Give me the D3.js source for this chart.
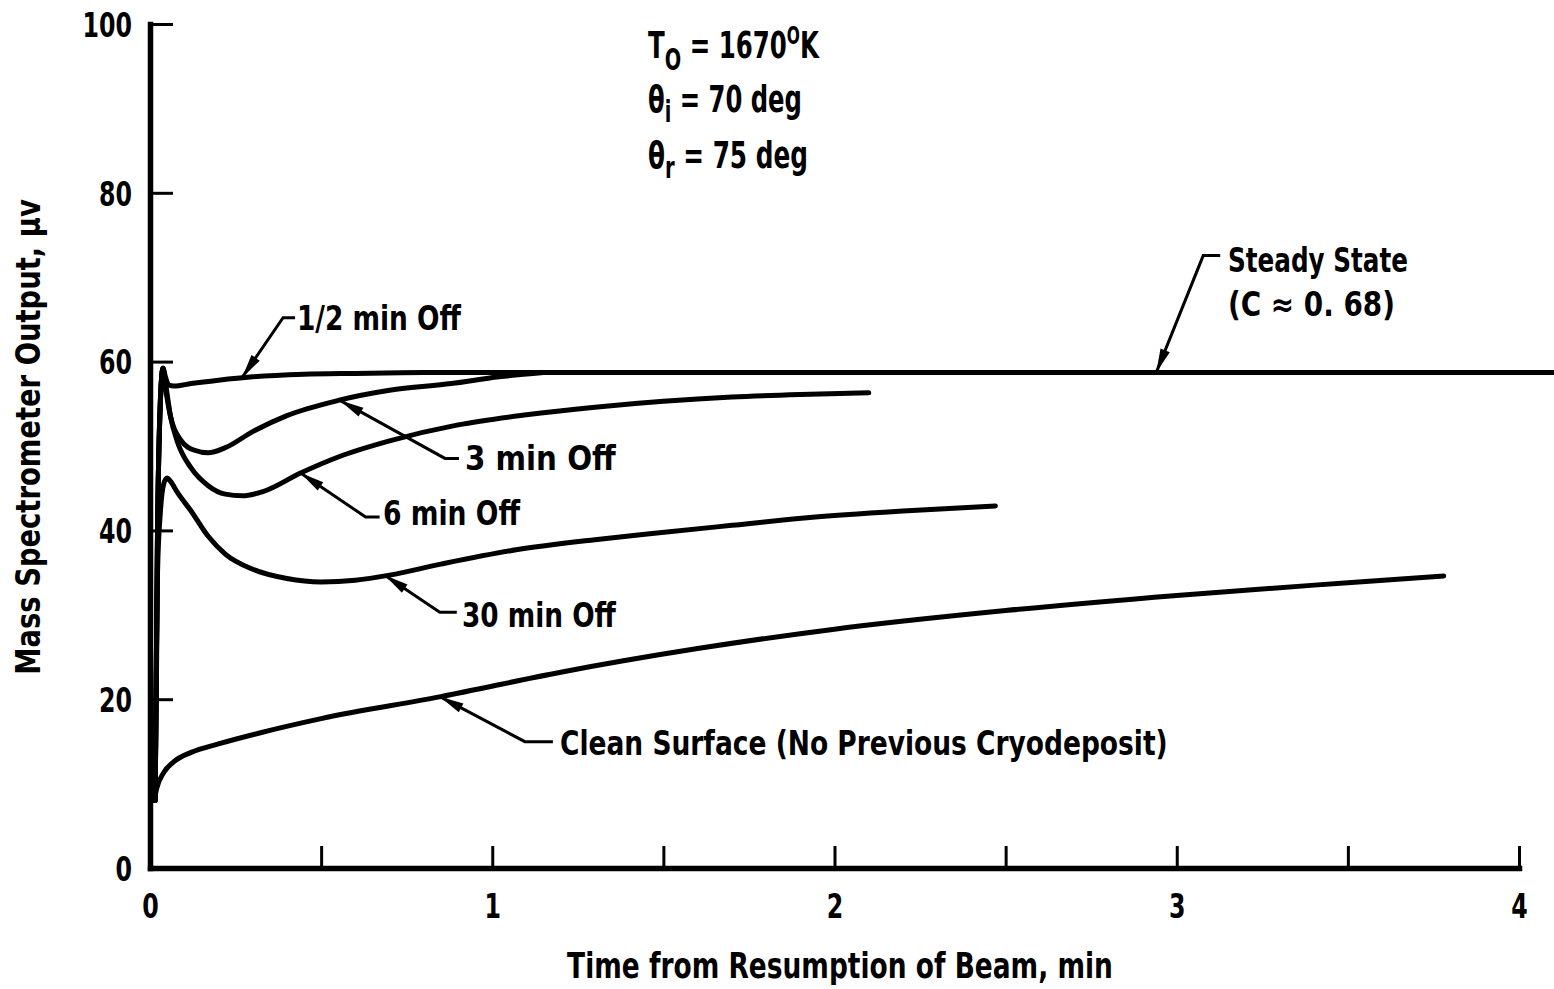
<!DOCTYPE html>
<html>
<head>
<meta charset="utf-8">
<script src="https://cdn.jsdelivr.net/npm/d3@7"></script>
<style>
  html, body { margin: 0; padding: 0; background: #fff; }
  svg { display: block; }
  text {
    font-family: "DejaVu Sans", "Liberation Sans", sans-serif;
    font-weight: bold;
    fill: #000;
  }
</style>
</head>
<body>
<svg id="chart" width="1554" height="989"></svg>
<script>
// Time after the beam is turned back on (min) and mass-spectrometer output (µV)
const halfMinTime = [0.015, 0.022, 0.03, 0.038, 0.045, 0.055, 0.07, 0.12, 0.2, 0.3, 0.45, 0.6, 0.8];
const halfMinOut  = [8, 40, 55, 59.2, 58.2, 57.2, 57.1, 57.4, 57.8, 58.2, 58.5, 58.6, 58.7];

const threeMinTime = [0.015, 0.022, 0.03, 0.038, 0.045, 0.06, 0.09, 0.13, 0.17, 0.22, 0.3, 0.4, 0.55, 0.7, 0.88, 1.02, 1.15];
const threeMinOut  = [8, 40, 55, 59.2, 57.0, 53.5, 50.7, 49.5, 49.2, 49.8, 51.7, 53.6, 55.4, 56.6, 57.4, 58.2, 58.7];

const sixMinTime = [0.015, 0.022, 0.03, 0.038, 0.045, 0.06, 0.08, 0.12, 0.17, 0.22, 0.27, 0.33, 0.44, 0.55, 0.7, 0.9, 1.1, 1.3, 1.5, 1.7, 1.9, 2.1];
const sixMinOut  = [8, 40, 55, 59.2, 57.5, 53.5, 50.5, 47.4, 45.3, 44.3, 44.1, 44.6, 46.8, 48.7, 50.6, 52.5, 53.7, 54.6, 55.3, 55.8, 56.1, 56.3];

const thirtyMinTime = [0.015, 0.022, 0.03, 0.04, 0.05, 0.06, 0.08, 0.12, 0.17, 0.22, 0.3, 0.4, 0.5, 0.6, 0.7, 0.85, 1.07, 1.3, 1.46, 1.7, 1.92, 2.2, 2.47];
const thirtyMinOut  = [8, 35, 42, 45.5, 46.2, 45.8, 44.5, 42.3, 39.3, 37.2, 35.4, 34.3, 33.9, 34.1, 34.7, 36.0, 37.7, 38.9, 39.6, 40.6, 41.5, 42.3, 42.9];

const cleanTime = [0.012, 0.02, 0.04, 0.07, 0.12, 0.2, 0.32, 0.5, 0.85, 1.2, 1.6, 2.0, 2.5, 3.0, 3.5, 3.78];
const cleanOut  = [8, 9.5, 11.3, 12.6, 13.7, 14.7, 16.0, 17.7, 20.3, 23.2, 26.0, 28.3, 30.5, 32.3, 33.8, 34.6];

const steadyTime = [0.8, 4.1];
const steadyOut  = [58.7, 58.7];

const xTicks = [0, 0.5, 1, 1.5, 2, 2.5, 3, 3.5, 4];
const xTickLabels = ["0", "", "1", "", "2", "", "3", "", "4"];
const yTicks = [0, 20, 40, 60, 80, 100];
const yTickLabels = ["0", "20", "40", "60", "80", "100"];

// Curve labels: text plus the point on the curve the leader arrow touches
const labelText  = ["1/2 min Off", "Steady State", "3 min Off", "6 min Off", "30 min Off", "Clean Surface (No Previous Cryodeposit)"];
const labelTipT  = [0.269, 2.94, 0.555, 0.44, 0.686, 0.847];
const labelTipV  = [58.1, 58.7, 55.4, 46.8, 34.7, 20.3];

const svg = d3.select("#chart");

const x = d3.scaleLinear().domain([0, 4]).range([150, 1519]);
const y = d3.scaleLinear().domain([0, 100]).range([868, 24]);

// Draws a text squeezed horizontally to a given width (narrow lettering)
function fitText(parent, tx, ty, width, size, anchor, build, rotate) {
  const g = parent.append("g")
    .attr("transform", `translate(${tx},${ty})` + (rotate ? ` rotate(${rotate})` : ""));
  const t = g.append("text")
    .attr("text-anchor", anchor || "start")
    .style("font-size", size + "px");
  build(t);
  const w = t.node().getBBox().width;
  t.attr("transform", `scale(${width / w},1)`);
  return t;
}

// Axes with inward ticks
const xAxis = d3.axisBottom(x)
  .tickValues(xTicks)
  .tickSizeInner(-22)
  .tickSizeOuter(0)
  .tickPadding(26)
  .tickFormat((d, i) => xTickLabels[i]);

const yAxis = d3.axisLeft(y)
  .tickValues(yTicks)
  .tickSizeInner(-23)
  .tickSizeOuter(0)
  .tickPadding(18)
  .tickFormat((d, i) => yTickLabels[i]);

const gx = svg.append("g").attr("transform", `translate(0,${y(0)})`).call(xAxis);
const gy = svg.append("g").attr("transform", `translate(${x(0)},0)`).call(yAxis);

[gx, gy].forEach(g => {
  g.select(".domain").attr("stroke", "#000").attr("stroke-width", 5.5).attr("stroke-linecap", "square");
  g.selectAll(".tick line").attr("stroke", "#000").attr("stroke-width", 3);
  g.selectAll(".tick text")
    .style("font-size", "34px")
    .attr("font-family", null)
    .attr("font-size", null)
    .attr("fill", "#000")
    .each(function () {
      const n = this.textContent.length;
      if (n) d3.select(this).attr("textLength", n * 16.5).attr("lengthAdjust", "spacingAndGlyphs");
    });
});
gx.selectAll(".tick text").attr("dy", "0.71em");
gy.selectAll(".tick text").attr("dy", "0.36em");

// Axis titles
fitText(svg, (567 + 1113) / 2, 978, 546, 35, "middle", t => t.text("Time from Resumption of Beam, min"));
fitText(svg, 40, 437, 476, 33, "middle", t => t.text("Mass Spectrometer Output, μv"), -90);

// Curves
const line = d3.line()
  .x(d => x(d[0]))
  .y(d => y(d[1]))
  .curve(d3.curveMonotoneX);

const series = [
  [steadyTime, steadyOut],
  [halfMinTime, halfMinOut],
  [threeMinTime, threeMinOut],
  [sixMinTime, sixMinOut],
  [thirtyMinTime, thirtyMinOut],
  [cleanTime, cleanOut]
];

svg.append("g")
  .selectAll("path")
  .data(series)
  .join("path")
  .attr("d", s => line(s[0].map((t, i) => [t, s[1][i]])))
  .attr("fill", "none")
  .attr("stroke", "#000")
  .attr("stroke-width", 5)
  .attr("stroke-linecap", "round")
  .attr("stroke-linejoin", "round");

// Leader lines: elbow offset from the arrow tip, then a short horizontal run to the text
const leaderLayout = [
  { ex: 41,  ey: -60,  run: 12, tx: 297,  ty: 330, w: 165 },
  { ex: 47,  ey: -117, run: 17, tx: 1228, ty: 272, w: 180 },
  { ex: 105, ey: 58,   run: 14, tx: 465,  ty: 470, w: 152 },
  { ex: 65,  ey: 44,   run: 14, tx: 383,  ty: 525, w: 138 },
  { ex: 55,  ey: 37,   run: 17, tx: 462,  ty: 627, w: 155 },
  { ex: 85,  ey: 45,   run: 28, tx: 560,  ty: 755, w: 608 }
];

const leaders = svg.append("g");
labelText.forEach((txt, i) => {
  const L = leaderLayout[i];
  const tipX = x(labelTipT[i]);
  const tipY = y(labelTipV[i]);
  const elbX = tipX + L.ex;
  const elbY = tipY + L.ey;

  leaders.append("path")
    .attr("d", `M${tipX},${tipY} L${elbX},${elbY} L${elbX + L.run},${elbY}`)
    .attr("fill", "none")
    .attr("stroke", "#000")
    .attr("stroke-width", 3);

  // Slender filled arrowhead along the leader direction
  const ang = Math.atan2(elbY - tipY, elbX - tipX);
  const len = 24, hw = 5;
  const bx = tipX + Math.cos(ang) * len, by = tipY + Math.sin(ang) * len;
  const px = -Math.sin(ang) * hw, py = Math.cos(ang) * hw;
  leaders.append("path")
    .attr("d", `M${tipX},${tipY} L${bx + px},${by + py} L${bx - px},${by - py} Z`)
    .attr("fill", "#000");

  fitText(leaders, L.tx, L.ty, L.w, 33, "start", t => t.text(txt));
});

fitText(svg, 1228, 316, 167, 33, "start", t => t.text("(C \u2248  0. 68)"));

// Test conditions
const cond = svg.append("g");

fitText(cond, 648, 58, 172, 38, "start", t => {
  t.append("tspan").text("T");
  t.append("tspan").attr("dy", 12).style("font-size", "30px").text("O");
  t.append("tspan").attr("dy", -12).text(" = 1670");
  t.append("tspan").attr("dy", -14).style("font-size", "24px").text("O");
  t.append("tspan").attr("dy", 14).text("K");
});

fitText(cond, 648, 112, 154, 38, "start", t => {
  t.append("tspan").text("θ");
  t.append("tspan").attr("dy", 10).style("font-size", "30px").text("i");
  t.append("tspan").attr("dy", -10).text(" = 70 deg");
});

fitText(cond, 648, 168, 160, 38, "start", t => {
  t.append("tspan").text("θ");
  t.append("tspan").attr("dy", 10).style("font-size", "30px").text("r");
  t.append("tspan").attr("dy", -10).text(" = 75 deg");
});
</script>
</body>
</html>
